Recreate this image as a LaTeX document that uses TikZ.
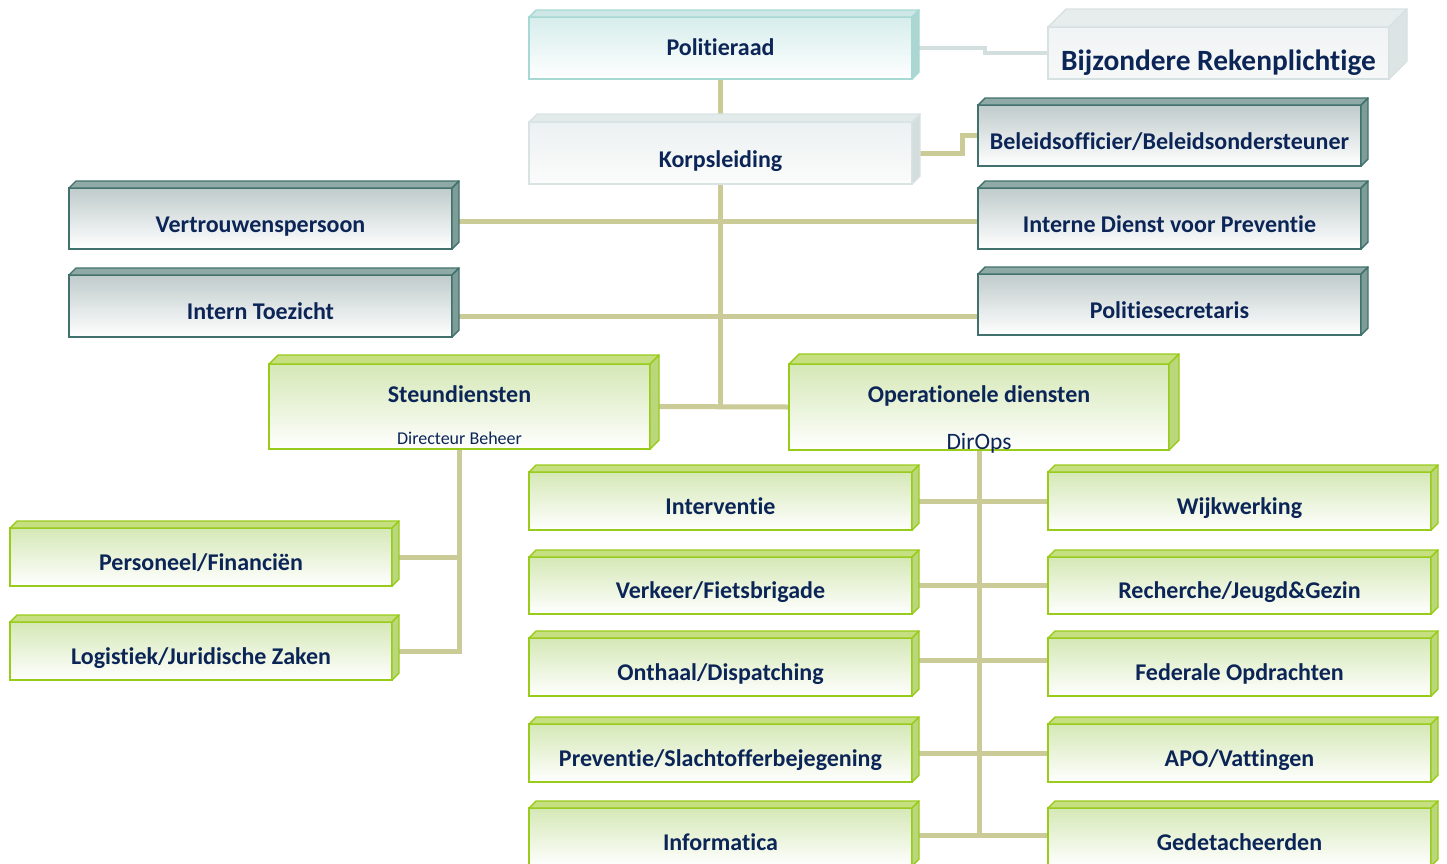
\documentclass[tikz,border=0pt]{standalone}
\usepackage{fontspec}
\setmainfont{Carlito}[RawFeature={-liga;-clig;-calt;-dlig}]
\usetikzlibrary{calc}
\pgfdeclarelayer{bg}
\pgfsetlayers{bg,main}

\definecolor{navy}{HTML}{0C2557}
\definecolor{conncol}{HTML}{CBCB98}
\definecolor{grayconn}{HTML}{D3DEDE}
% green
\definecolor{gborder}{HTML}{99CC1A}
\definecolor{gtopfill}{HTML}{D5E8B6}
\definecolor{gface}{HTML}{C6E081}
\definecolor{gside}{HTML}{BBD77C}
% dark teal
\definecolor{tborder}{HTML}{41716C}
\definecolor{ttopfill}{HTML}{C0CBCB}
\definecolor{tface}{HTML}{8FA9A6}
\definecolor{tside}{HTML}{7E9C98}
% light teal (Politieraad)
\definecolor{lborder}{HTML}{A6D8D4}
\definecolor{ltopfill}{HTML}{D6EDEC}
\definecolor{lface}{HTML}{CCE7E5}
\definecolor{lside}{HTML}{ADD5D2}
% pale gray (Korpsleiding)
\definecolor{pborder}{HTML}{D9E3E3}
\definecolor{ptopfill}{HTML}{ECF1F1}
\definecolor{pface}{HTML}{E3EAEA}
\definecolor{pside}{HTML}{D3DDDD}
% very pale (Bijzondere)
\definecolor{vborder}{HTML}{D8E1E1}
\definecolor{vtopfill}{HTML}{F1F4F4}
\definecolor{vface}{HTML}{E7ECEC}
\definecolor{vside}{HTML}{DCE4E4}

\newcommand\boxfaces[5]{%
  \filldraw[fill=#3, draw=#5, line width=1.4pt, line join=round]
    (#1.north west) -- ++(#2,-#2) -- ($(#1.north east)+(#2,-#2)$) -- (#1.north east) -- cycle;
  \filldraw[fill=#4, draw=#5, line width=1.4pt, line join=round]
    (#1.north east) -- ++(#2,-#2) -- ($(#1.south east)+(#2,-#2)$) -- (#1.south east) -- cycle;}

\newcommand\orgbox[8]{% name, x1, y1, x2, y2, style, text, depth
  \node[#6, anchor=north west, minimum width=#4-#2, minimum height=#5-#3] (#1) at (#2,#3) {#7};}

\begin{document}
\begin{tikzpicture}[x=1pt,y=-1pt,
  base/.style={inner sep=0pt, outer sep=0pt, line width=1.6pt, text=navy,
     font=\fontsize{24}{28}\selectfont\bfseries, text height=26pt, text depth=0pt},
  gbox/.style={base, draw=gborder, top color=gtopfill, bottom color=white},
  tbox/.style={base, draw=tborder, top color=ttopfill, bottom color=white, text height=27pt},
  lbox/.style={base, draw=lborder, top color=ltopfill, bottom color=white, text height=14pt},
  pbox/.style={base, draw=pborder, top color=ptopfill, bottom color=white!97!gray, text height=28pt},
  vbox/.style={base, draw=vborder, top color=vtopfill, bottom color=vtopfill!60!white,
     font=\fontsize{29.4}{34}\selectfont\bfseries, text height=34pt},
  hbox/.style={gbox, text height=0pt, text depth=9pt},
  sub/.style={font=\fontsize{18}{21}\selectfont, text=navy, anchor=base, inner sep=0pt},
  conn/.style={draw=conncol, line width=5pt},
  gconn/.style={draw=grayconn, line width=4pt}]
\useasboundingbox (0,0) rectangle (1447,863);

% top
\orgbox{pol}{529}{17}{912}{79}{lbox}{Politieraad}{7}
\boxfaces{pol}{7}{lface}{lside}{lborder}
\orgbox{bij}{1048}{27}{1389}{79}{vbox}{Bijzondere Rekenplichtige}{18}
\boxfaces{bij}{18}{vface}{vside}{vborder}
\orgbox{kor}{529}{122}{912}{184}{pbox}{Korpsleiding}{8}
\boxfaces{kor}{8}{pface}{pside}{pborder}

% staff
\orgbox{bel}{978}{105}{1361}{166}{tbox}{Beleidsofficier/Beleidsondersteuner}{7}
\boxfaces{bel}{7}{tface}{tside}{tborder}
\orgbox{ver}{69}{188}{452}{249}{tbox}{Vertrouwenspersoon}{7}
\boxfaces{ver}{7}{tface}{tside}{tborder}
\orgbox{ind}{978}{188}{1361}{249}{tbox}{Interne Dienst voor Preventie}{7}
\boxfaces{ind}{7}{tface}{tside}{tborder}
\orgbox{itz}{69}{275}{452}{337}{tbox}{Intern Toezicht}{7}
\boxfaces{itz}{7}{tface}{tside}{tborder}
\orgbox{pse}{978}{274}{1361}{335}{tbox}{Politiesecretaris}{7}
\boxfaces{pse}{7}{tface}{tside}{tborder}

% directions
\node[hbox, anchor=north west, minimum width=381, minimum height=85,
  label={[sub, anchor=base, yshift=5pt]south:Directeur Beheer}] (ste) at (269,364) {Steundiensten};
\boxfaces{ste}{9}{gface}{gside}{gborder}
\node[hbox, anchor=north west, minimum width=380, minimum height=86,
  label={[sub, font=\fontsize{23.5}{28}\selectfont, anchor=base, yshift=1pt]south:DirOps}] (ope) at (789,364) {Operationele diensten};
\boxfaces{ope}{10}{gface}{gside}{gborder}

% steundiensten children
\orgbox{per}{10}{528}{392}{586}{gbox}{Personeel/Financiën}{7}
\boxfaces{per}{7}{gface}{gside}{gborder}
\orgbox{log}{10}{622}{392}{680}{gbox}{Logistiek/Juridische Zaken}{7}
\boxfaces{log}{7}{gface}{gside}{gborder}

% operationele children
\orgbox{int}{529}{472}{912}{530}{gbox}{Interventie}{7}
\boxfaces{int}{7}{gface}{gside}{gborder}
\orgbox{wij}{1048}{472}{1431}{530}{gbox}{Wijkwerking}{7}
\boxfaces{wij}{7}{gface}{gside}{gborder}
\orgbox{vkr}{529}{557}{912}{614}{gbox}{Verkeer/Fietsbrigade}{7}
\boxfaces{vkr}{7}{gface}{gside}{gborder}
\orgbox{rec}{1048}{557}{1431}{614}{gbox}{Recherche/Jeugd\&Gezin}{7}
\boxfaces{rec}{7}{gface}{gside}{gborder}
\orgbox{ont}{529}{638}{912}{696}{gbox}{Onthaal/Dispatching}{7}
\boxfaces{ont}{7}{gface}{gside}{gborder}
\orgbox{fed}{1048}{638}{1431}{696}{gbox}{Federale Opdrachten}{7}
\boxfaces{fed}{7}{gface}{gside}{gborder}
\orgbox{pre}{529}{724}{912}{782}{gbox}{Preventie/Slachtofferbejegening}{7}
\boxfaces{pre}{7}{gface}{gside}{gborder}
\orgbox{apo}{1048}{724}{1431}{782}{gbox}{APO/Vattingen}{7}
\boxfaces{apo}{7}{gface}{gside}{gborder}
\orgbox{inf}{529}{808}{912}{866}{gbox}{Informatica}{7}
\boxfaces{inf}{7}{gface}{gside}{gborder}
\orgbox{ged}{1048}{808}{1431}{866}{gbox}{Gedetacheerden}{7}
\boxfaces{ged}{7}{gface}{gside}{gborder}

\begin{pgfonlayer}{bg}
  \draw[gconn] (pol.east) -- ++(73,0) |- (bij.west);
  \draw[conn] (pol.south) -- (kor.north);
  \draw[conn] (kor.east) -- ++(50,0) |- (bel.west);
  \draw[conn] (kor.south) -- (kor.south |- ope.west);
  \draw[conn] ([yshift=-3pt]ver.east) -- ([yshift=-3pt]ver.east -| ind.west);
  \draw[conn] ([yshift=-10pt]itz.east) -- ([yshift=-10pt]itz.east -| pse.west);
  \draw[conn] (ste.east) -- (ope.west);
  \draw[conn] (ste.south) |- (log.east);
  \draw[conn] (per.east) -- (per.east -| ste.south);
  \draw[conn] (ope.south) -- ([yshift=2pt]ope.south |- inf.east);
  \draw[conn] (int.east) -- (wij.west);
  \draw[conn] (vkr.east) -- (rec.west);
  \draw[conn] ([yshift=7pt]ont.east) -- ([yshift=7pt]fed.west);
  \draw[conn] (pre.east) -- (apo.west);
  \draw[conn] ([yshift=2pt]inf.east) -- ([yshift=2pt]ged.west);
\end{pgfonlayer}
\end{tikzpicture}
\end{document}
